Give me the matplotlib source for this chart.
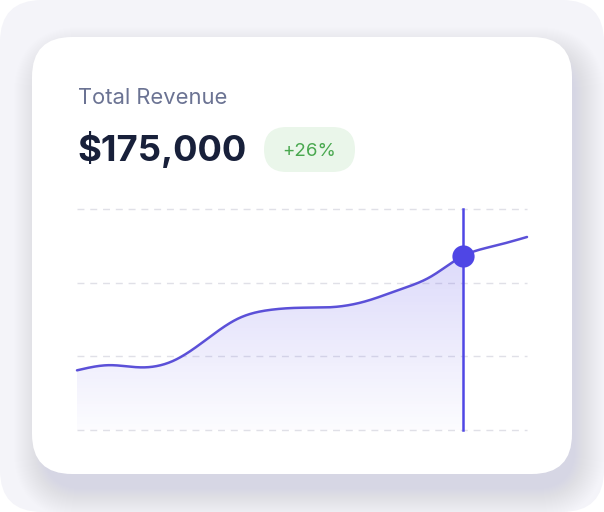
import numpy as np
import matplotlib
matplotlib.use('Agg')
import matplotlib.pyplot as plt
from matplotlib.patches import FancyBboxPatch, Polygon

plt.rcParams['font.family'] = ['Inter', 'DejaVu Sans']

# data (revenue index)
points = list(range(15))
revenue = [81, 88, 85, 94, 122, 151, 163, 166, 167, 175, 190, 208, 236, 250, 262]
grid_vals = [0, 100, 200, 300]
focus_idx = 12

title = "Total Revenue"
total = "$175,000"
change = "+26%"

LINE = '#5b50d8'
ACCENT = '#4f46e5'


def smooth_curve(x, y, n=40):
    """Natural cubic spline through the points, only for drawing."""
    x = np.asarray(x, float)
    y = np.asarray(y, float)
    N = len(x)
    h = np.diff(x)
    A = np.zeros((N, N))
    b = np.zeros(N)
    A[0, 0] = A[-1, -1] = 1
    for i in range(1, N - 1):
        A[i, i - 1] = h[i - 1]
        A[i, i] = 2 * (h[i - 1] + h[i])
        A[i, i + 1] = h[i]
        b[i] = 6 * ((y[i + 1] - y[i]) / h[i] - (y[i] - y[i - 1]) / h[i - 1])
    M = np.linalg.solve(A, b)
    xs, ys = [], []
    for i in range(N - 1):
        t = np.linspace(x[i], x[i + 1], n, endpoint=False)
        a = x[i + 1] - t
        c = t - x[i]
        s = (M[i] * a**3 + M[i + 1] * c**3) / (6 * h[i]) \
            + (y[i] / h[i] - M[i] * h[i] / 6) * a + (y[i + 1] / h[i] - M[i + 1] * h[i] / 6) * c
        xs.append(t)
        ys.append(s)
    xs.append([x[-1]])
    ys.append([y[-1]])
    return np.concatenate(xs), np.concatenate(ys)


W, H = 604, 512
fig = plt.figure(figsize=(W / 100, H / 100), dpi=100)
fig.patch.set_facecolor('white')

bg = fig.add_axes([0, 0, 1, 1])
bg.set_xlim(0, W)
bg.set_ylim(H, 0)
bg.axis('off')

# outer panel
bg.add_patch(FancyBboxPatch((0, 0), W, H, boxstyle="round,pad=0,rounding_size=42",
                            fc='#f4f4f9', ec='none'))

# soft shadow under the card
cx, cy, cw, ch = 32, 37, 540, 437
for k in range(30, 0, -1):
    s = k * 1.0
    bg.add_patch(FancyBboxPatch((cx - s + 12, cy - s + 20), cw + 2 * s - 10, ch + 2 * s - 6,
                                boxstyle="round,pad=0,rounding_size=%f" % (40 + s),
                                fc='#c8c8e4', ec='none', alpha=0.013))

# card
bg.add_patch(FancyBboxPatch((cx, cy), cw, ch, boxstyle="round,pad=0,rounding_size=40",
                            fc='white', ec='none'))

# header texts
bg.text(78, 104, title, fontsize=15.8, color='#6b7393', va='baseline', ha='left')
bg.text(77, 161.5, total, fontsize=26.2, fontweight='bold', color='#18203a',
        va='baseline', ha='left')
bg.add_patch(FancyBboxPatch((264, 127), 91, 45, boxstyle="round,pad=0,rounding_size=22.5",
                            fc='#eaf6ea', ec='none'))
bg.text(309.5, 156.5, change, fontsize=13.5, color='#49a84f', va='baseline', ha='center')

# chart area
ax = fig.add_axes([77 / W, (H - 430) / H, 450 / W, 221 / H])
ax.set_xlim(points[0], points[-1])
ax.set_ylim(grid_vals[0], grid_vals[-1])
ax.axis('off')

for g in grid_vals:
    ax.axhline(g, color='#e0e0e7', lw=1.0, dashes=(5, 4.2), clip_on=False, zorder=1)

xs, ys = smooth_curve(points, revenue)

# gradient fill under the line, up to the focus point
mask = xs <= points[focus_idx]
poly = np.column_stack([np.r_[xs[mask], points[focus_idx], points[0]],
                        np.r_[ys[mask], 0, 0]])
patch = Polygon(poly, closed=True, fc='none', ec='none')
ax.add_patch(patch)
grad = np.linspace(0, 1, 256).reshape(-1, 1)
rgba = np.zeros((256, 1, 4))
rgba[..., 0], rgba[..., 1], rgba[..., 2] = 0.42, 0.38, 0.92
rgba[..., 3] = 0.02 + 0.27 * grad
img = ax.imshow(rgba, extent=[points[0], points[-1], 0, grid_vals[-1]], origin='lower',
                aspect='auto', zorder=2, interpolation='bilinear')
img.set_clip_path(patch)

ax.plot(xs, ys, color=LINE, lw=1.8, zorder=3, solid_capstyle='round', clip_on=False)
ax.plot([points[focus_idx]] * 2, [grid_vals[0], grid_vals[-1]], color=ACCENT, lw=1.8,
        zorder=4, clip_on=False)
ax.plot(points[focus_idx], revenue[focus_idx], 'o', color=ACCENT, ms=16, mew=0,
        zorder=5, clip_on=False)

fig.savefig('out.png', dpi=100)
